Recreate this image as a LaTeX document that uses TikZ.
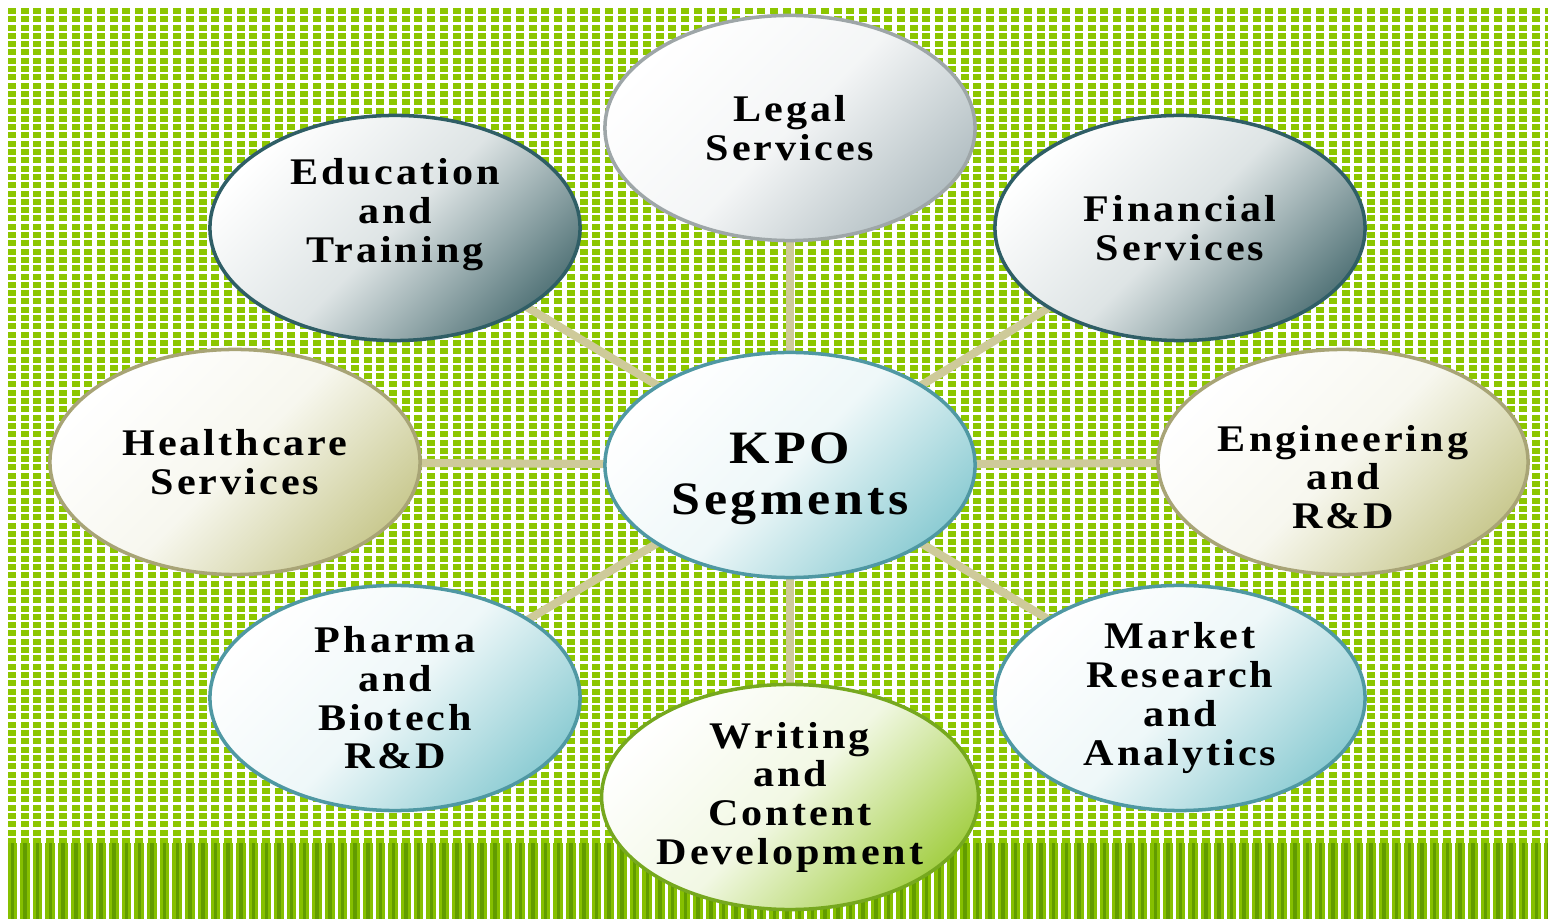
\documentclass[tikz,border=0pt]{standalone}
\usepackage{fontspec}
\setmainfont{Liberation Serif}
\newfontfamily\segfont[FakeStretch=1.12,LetterSpace=8]{Liberation Serif}
\usetikzlibrary{shapes.geometric}
\pgfdeclarelayer{back}
\pgfdeclarelayer{links}
\pgfsetlayers{back,links,main}
\definecolor{meshgreen}{HTML}{8CC600}
\definecolor{bandgreen}{HTML}{86C000}
\definecolor{banddark}{HTML}{629C00}
\definecolor{linktan}{HTML}{CECA9A}
\definecolor{tealdark}{HTML}{2F5E66}
\definecolor{tealshade}{HTML}{58787C}
\definecolor{graylight}{HTML}{9EA6A8}
\definecolor{grayshade}{HTML}{B4C0C4}
\definecolor{tealmid}{HTML}{4F98A3}
\definecolor{cyanshade}{HTML}{8FCDD4}
\definecolor{khaki}{HTML}{A8A476}
\definecolor{khakishade}{HTML}{CACA92}
\definecolor{leafgreen}{HTML}{76A81E}
\definecolor{leafshade}{HTML}{A6D04A}
\begin{document}
\begin{tikzpicture}[
        x=0.01cm, y=-0.01cm,
        thick,
        font=\segfont\bfseries\fontsize{10.7}{11}\selectfont
    ]
    \tikzset{
        seg/.style = {ellipse, align=center, inner sep=0pt, line width=1pt,
                      minimum width=3.7cm, minimum height=2.25cm},
        segdark/.style = {seg, draw=tealdark, top color=white, bottom color=tealshade,
                          middle color=white!80!tealshade, shading angle=45},
        seggray/.style = {seg, draw=graylight, top color=white, bottom color=grayshade,
                          middle color=white!85!grayshade, shading angle=45},
        segteal/.style = {seg, draw=tealmid, top color=white, bottom color=cyanshade,
                          middle color=white!85!cyanshade, shading angle=45},
        segkhaki/.style = {seg, draw=khaki, top color=white, bottom color=khakishade,
                           middle color=white!85!khakishade, shading angle=45},
        segleaf/.style = {seg, draw=leafgreen, top color=white, bottom color=leafshade,
                          middle color=white!85!leafshade, shading angle=45},
        link/.style = {line width=2.3pt, linktan},
    }
    \useasboundingbox (0,0) rectangle (1548,919);
    % mesh background and striped band
    \begin{pgfonlayer}{back}
    \fill[white] (0,0) rectangle (1548,919);
    \fill[meshgreen] (8,8) rectangle (1548,843);
    \foreach \i in {0,...,121}
        \fill[white] ({16+12.7*\i},8) rectangle +(4.7,835);
    \foreach \j in {0,...,100}
        \fill[white] (8,{14+8.3*\j}) rectangle +(1540,2.3);
    \fill[bandgreen] (8,843) rectangle (1548,919);
    \foreach \i in {0,...,121} {
        \fill[banddark] ({10.5+12.7*\i},843) rectangle +(3.5,76);
        \fill[white] ({17+12.7*\i},843) rectangle +(3,76);
    }
    \end{pgfonlayer}
    %
    \node[segteal, font=\segfont\bfseries\fontsize{13.2}{14.5}\selectfont, text height=31pt]
        at (790,465) (kpo) {KPO\\Segments};
    \node[seggray] at (790,128) (legal) {Legal\\Services};
    \node[segdark, text depth=0.35cm] at (395,228) (edu) {Education\\and\\Training};
    \node[segdark] at (1180,228) (fin) {Financial\\Services};
    \node[segkhaki] at (235,462) (health) {Healthcare\\Services};
    \node[segkhaki, text height=38pt] at (1343,462) (eng) {Engineering\\and\\R\&D};
    \node[segteal] at (395,698) (pharma) {Pharma\\and\\Biotech\\R\&D};
    \node[segteal] at (1180,698) (market) {Market\\Research\\and\\Analytics};
    \node[segleaf] at (790,797) (write) {Writing\\and\\Content\\Development};
    %
    \begin{pgfonlayer}{links}
    \foreach \n in {legal,edu,fin,health,eng,pharma,market,write}
        \draw[link] (kpo.center) -- (\n.center);
    \end{pgfonlayer}
\end{tikzpicture}
\end{document}
